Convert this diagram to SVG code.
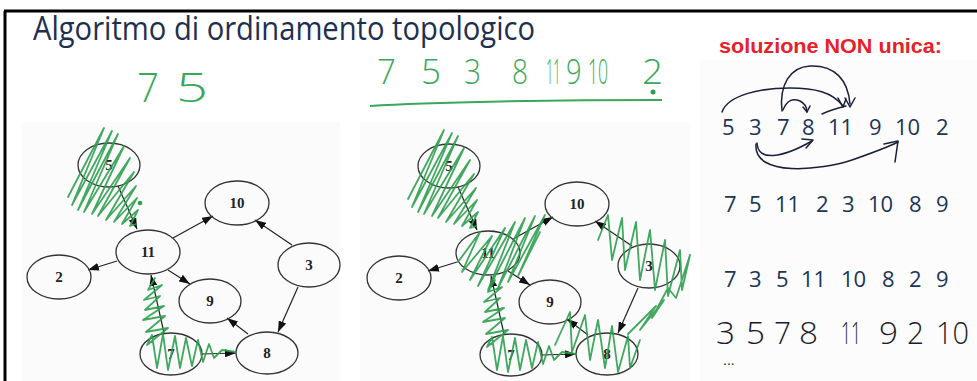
<svg xmlns="http://www.w3.org/2000/svg" width="977" height="381" viewBox="0 0 977 381">
<defs>
<marker id="ah" markerUnits="userSpaceOnUse" markerWidth="11" markerHeight="8" refX="11" refY="4" orient="auto">
<path d="M0,0 L11,4 L0,8 z" fill="#111"/>
</marker>
<style>
.nd{fill:none;stroke:#333;stroke-width:1.3}
.lb{font-family:"Liberation Serif",serif;font-size:15px;font-weight:bold;fill:#222;text-anchor:middle}
.ed{stroke:#222;stroke-width:1.2;fill:none;marker-end:url(#ah)}
.sc{fill:none;stroke:#2e9e4f;stroke-width:1.8;stroke-linejoin:round;stroke-linecap:round;opacity:0.9}
.gh{font-family:"Open Sans","Liberation Sans",sans-serif;font-weight:300;fill:#3aa858}
.bh{font-family:"Open Sans","Liberation Sans",sans-serif;font-weight:300;fill:#1a1a2a;font-size:31px}
.num{font-family:"Open Sans","Liberation Sans",sans-serif;font-size:22px;fill:#1b3556}
.ink{fill:none;stroke:#1a1f3a;stroke-width:1.5;stroke-linecap:round;stroke-linejoin:round}
</style>
</defs>
<rect width="977" height="381" fill="#ffffff"/>
<rect x="22" y="122" width="318" height="259" fill="#fbfbfb"/>
<rect x="360" y="122" width="330" height="259" fill="#fbfbfb"/>
<rect x="700" y="60" width="277" height="321" fill="#fcfcfc"/>
<path d="M4,11 H977 M5,11 V381" stroke="#000" stroke-width="3" fill="none"/>

<text x="33" y="40" font-family="Open Sans, Liberation Sans, sans-serif" font-size="33" fill="#1e3050" textLength="502" lengthAdjust="spacingAndGlyphs">Algoritmo di ordinamento topologico</text>

<g id="hand-left">
<text class="gh" x="137" y="102" font-size="40" textLength="22" lengthAdjust="spacingAndGlyphs">7</text>
<text class="gh" x="176" y="102" font-size="40" textLength="32" lengthAdjust="spacingAndGlyphs">5</text>
</g>
<g id="hand-mid" class="gh" font-size="34">
<text x="377" y="84" textLength="19" lengthAdjust="spacingAndGlyphs">7</text>
<text x="421" y="84" textLength="20" lengthAdjust="spacingAndGlyphs">5</text>
<text x="464" y="84" textLength="17" lengthAdjust="spacingAndGlyphs">3</text>
<text x="512" y="84" textLength="16" lengthAdjust="spacingAndGlyphs">8</text>
<text transform="translate(546,84) scale(0.38,1)" x="0" y="0">11</text>
<text transform="translate(566,84) scale(0.8,1)" x="0" y="0">9</text>
<text transform="translate(588,84) scale(0.52,1)" x="0" y="0">10</text>
<text x="642" y="84" textLength="21" lengthAdjust="spacingAndGlyphs">2</text>
<path d="M370,106 C430,102 560,100 662,100" fill="none" stroke="#3aa858" stroke-width="2"/>
<circle cx="653" cy="92" r="2.5" fill="#2e9e4f"/>
</g>

<!-- Graph 1 -->
<g id="connectors-1">
<path class="ed" d="M118,186 L137,229"/>
<path class="ed" d="M173,238 L213,216"/>
<path class="ed" d="M117,261 L88,270"/>
<path class="ed" d="M168,270 L190,284"/>
<path class="ed" d="M292,245 L255,220"/>
<path class="ed" d="M298,287 L278,332"/>
<path class="ed" d="M248,334 L227,318"/>
<path class="ed" d="M202,354 L236,353"/>
<path class="ed" d="M164,333 L151,275"/>
</g>
<g id="g1-n5"><ellipse class="nd" cx="109" cy="165" rx="31" ry="22"/><text class="lb" x="109" y="170">5</text></g>
<g id="g1-n10"><ellipse class="nd" cx="237" cy="203" rx="32" ry="22"/><text class="lb" x="237" y="208">10</text></g>
<g id="g1-n11"><ellipse class="nd" cx="148" cy="252" rx="32" ry="22"/><text class="lb" x="148" y="257">11</text></g>
<g id="g1-n2"><ellipse class="nd" cx="59" cy="277" rx="32" ry="22"/><text class="lb" x="59" y="282">2</text></g>
<g id="g1-n3"><ellipse class="nd" cx="309" cy="265" rx="31" ry="22"/><text class="lb" x="309" y="270">3</text></g>
<g id="g1-n9"><ellipse class="nd" cx="210" cy="301" rx="31" ry="22"/><text class="lb" x="210" y="306">9</text></g>
<g id="g1-n8"><ellipse class="nd" cx="267" cy="353" rx="31" ry="21"/><text class="lb" x="267" y="358">8</text></g>
<g id="g1-n7"><ellipse class="nd" cx="171" cy="354" rx="31" ry="21"/><text class="lb" x="171" y="359">7</text></g>

<!-- Graph 2 -->
<g id="connectors-2" transform="translate(340,1)">
<path class="ed" d="M118,186 L137,229"/>
<path class="ed" d="M173,238 L213,216"/>
<path class="ed" d="M117,261 L88,270"/>
<path class="ed" d="M168,270 L190,284"/>
<path class="ed" d="M292,245 L255,220"/>
<path class="ed" d="M298,287 L278,332"/>
<path class="ed" d="M248,334 L227,318"/>
<path class="ed" d="M202,354 L236,353"/>
<path class="ed" d="M164,333 L151,275"/>
</g>
<g transform="translate(340,1)">
<g id="g2-n5"><ellipse class="nd" cx="109" cy="165" rx="31" ry="22"/><text class="lb" x="109" y="170">5</text></g>
<g id="g2-n10"><ellipse class="nd" cx="237" cy="203" rx="32" ry="22"/><text class="lb" x="237" y="208">10</text></g>
<g id="g2-n11"><ellipse class="nd" cx="148" cy="252" rx="32" ry="22"/><text class="lb" x="148" y="257">11</text></g>
<g id="g2-n2"><ellipse class="nd" cx="59" cy="277" rx="32" ry="22"/><text class="lb" x="59" y="282">2</text></g>
<g id="g2-n3"><ellipse class="nd" cx="309" cy="265" rx="31" ry="22"/><text class="lb" x="309" y="270">3</text></g>
<g id="g2-n9"><ellipse class="nd" cx="210" cy="301" rx="31" ry="22"/><text class="lb" x="210" y="306">9</text></g>
<g id="g2-n8"><ellipse class="nd" cx="267" cy="353" rx="31" ry="21"/><text class="lb" x="267" y="358">8</text></g>
<g id="g2-n7"><ellipse class="nd" cx="171" cy="354" rx="31" ry="21"/><text class="lb" x="171" y="359">7</text></g>
</g>

<!-- Green scribbles -->
<g id="scribbles">
<polyline class="sc" points="68,197 104,128 72,205 112,131 78,210 118,134 84,212 124,146 92,214 130,158 98,216 134,172 106,220 136,186 114,222 137,198 122,224 138,210 130,226 136,224"/>
<circle cx="140" cy="203" r="2.3" fill="#2e9e4f"/>
<polyline class="sc" points="155,278 148,290 162,285 144,300 160,296 145,310 164,306 143,320 165,316 146,332 168,328 147,345 152,335 157,368 163,334 168,370 175,336 180,368 186,338 192,366 198,340 203,362 209,344 214,358 222,350 236,352"/>

<g transform="translate(340,2)">
<polyline class="sc" points="68,197 104,128 72,205 112,131 78,210 118,134 84,212 124,146 92,214 130,158 98,216 134,172 106,220 136,186 114,222 137,198 122,224 138,210 130,226 136,224"/>
<polyline class="sc" points="155,278 148,290 162,285 144,300 160,296 145,310 164,306 143,320 165,316 146,332 168,328 147,345 152,335 157,368 163,334 168,370 175,336 180,368 186,338 192,366 198,340 203,362 209,344 214,358 222,350 236,352"/>
</g>
<polyline class="sc" points="458,262 480,232 462,272 492,236 470,280 505,228 478,286 515,222 488,290 525,218 498,288 535,216 508,282 545,215 518,276 540,232"/>
<polyline class="sc" points="598,240 608,215 612,260 622,218 625,270 636,222 640,280 650,230 655,290 665,240 668,296 680,250 682,290 690,255 676,298 668,288 652,318 664,300 640,330 656,306 628,334"/>
<polyline class="sc" points="555,345 570,312 572,352 585,315 590,360 598,320 605,368 612,326 618,372 628,336 630,368 640,340"/>
</g>

<!-- Right side -->
<g id="right-panel">
<text x="719" y="53" font-family="Liberation Sans, Arial, sans-serif" font-size="20" font-weight="bold" fill="#e8202a" textLength="223" lengthAdjust="spacingAndGlyphs">soluzione NON unica:</text>
<g class="num">
<text x="722" y="135">5</text><text x="749" y="135">3</text><text x="777" y="135">7</text><text x="802" y="135">8</text><text x="828" y="135">11</text><text x="869" y="135">9</text><text x="895" y="135">10</text><text x="936" y="135">2</text>
<text x="724" y="212">7</text><text x="749" y="212">5</text><text x="775" y="212">11</text><text x="816" y="212">2</text><text x="842" y="212">3</text><text x="868" y="212">10</text><text x="909" y="212">8</text><text x="936" y="212">9</text>
<text x="724" y="287">7</text><text x="749" y="287">3</text><text x="776" y="287">5</text><text x="801" y="287">11</text><text x="841" y="287">10</text><text x="882" y="287">8</text><text x="909" y="287">2</text><text x="936" y="287">9</text>
</g>
<g id="hand-black">
<text class="bh" x="716" y="344" textLength="19" lengthAdjust="spacingAndGlyphs">3</text>
<text class="bh" x="746" y="344" textLength="19" lengthAdjust="spacingAndGlyphs">5</text>
<text class="bh" x="774" y="344" textLength="17" lengthAdjust="spacingAndGlyphs">7</text>
<text class="bh" x="799" y="344" textLength="19" lengthAdjust="spacingAndGlyphs">8</text>
<text class="bh" x="841" y="344" textLength="20" lengthAdjust="spacingAndGlyphs">11</text>
<text class="bh" x="879" y="344" textLength="19" lengthAdjust="spacingAndGlyphs">9</text>
<text class="bh" x="907" y="344" textLength="17" lengthAdjust="spacingAndGlyphs">2</text>
<text class="bh" x="936" y="344" textLength="33" lengthAdjust="spacingAndGlyphs">10</text>
<text x="723" y="365" font-family="Liberation Sans, sans-serif" font-size="14" fill="#1a1a2a">...</text>
</g>
<g id="ink-arrows">
<path class="ink" d="M722,112 C728,95 760,88 790,88 C815,88 832,92 843,106"/>
<path class="ink" d="M838,98 L843,107 L846,99"/>
<path class="ink" d="M782,111 C779,85 790,67 810,66 C835,65 848,80 850,104"/>
<path class="ink" d="M845,98 L850,107 L855,98"/>
<path class="ink" d="M783,110 C787,100 793,98 800,101 C806,104 807,108 807,112"/>
<path class="ink" d="M803,107 L807,112 L810,106"/>
<path class="ink" d="M822,114 C830,110 838,108 846,106"/>
<path class="ink" d="M757,143 C758,162 782,158 812,141"/>
<path class="ink" d="M802,139 L813,140 L806,148"/>
<path class="ink" d="M756,144 C753,178 822,170 852,160 C872,153 886,148 898,142"/>
<path class="ink" d="M884,144 L898,141 L895,162"/>
</g>
</g>
</svg>
